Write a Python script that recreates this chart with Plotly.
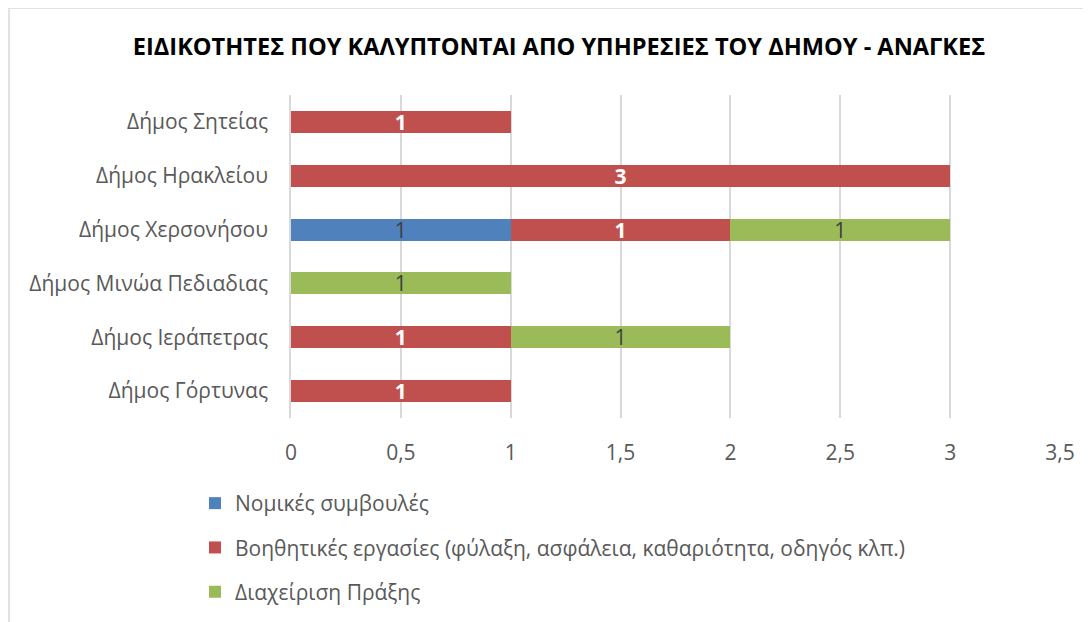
import plotly.graph_objects as go

categories = ["Δήμος Γόρτυνας", "Δήμος Ιεράπετρας", "Δήμος Μινώα Πεδιαδιας",
              "Δήμος Χερσονήσου", "Δήμος Ηρακλείου", "Δήμος Σητείας"]
series_names = ["Νομικές συμβουλές",
                "Βοηθητικές εργασίες (φύλαξη, ασφάλεια, καθαριότητα, οδηγός κλπ.)",
                "Διαχείριση Πράξης"]
legal = [None, None, None, 1, None, None]
support = [1, 1, None, 1, 3, 1]
management = [None, 1, 1, 1, None, None]
colors = ["#4F81BD", "#C0504D", "#9BBB59"]
x_ticks = [0, 0.5, 1, 1.5, 2, 2.5, 3, 3.5]

FONT = "Open Sans"
FS = 21
fig = go.Figure()
values = [legal, support, management]
for i, (name, vals) in enumerate(zip(series_names, values)):
    bold = (i == 1)
    fig.add_trace(go.Bar(
        y=categories, x=vals, name=name, orientation="h",
        marker=dict(color=colors[i], line=dict(width=0)),
        text=[("<b>%d</b>" % v if bold else "%d" % v) if v is not None else "" for v in vals],
        textposition="inside", insidetextanchor="middle", textangle=0,
        constraintext="none",
        textfont=dict(family=FONT, size=FS, color="#FFFFFF" if bold else "#404040"),
        legendgroup="g%d" % i, hoverinfo="x+y+name",
    ))

# page body has an 8px margin; figure coords = screen coords - 8
OFF = 8
W, H = 1091, 614
ml, mr, mt, mb = 291 - OFF, W - 1060 + OFF, 95 - OFF, H - (418 - OFF)
pw, ph = W - ml - mr, H - mt - mb

def px_x(p):
    return (p - OFF - ml) / pw

def px_y(p):
    return (H - mb - (p - OFF)) / ph

fig.update_layout(
    width=W, height=H,
    margin=dict(l=ml, r=mr, t=mt, b=mb, autoexpand=False),
    barmode="stack", bargap=0.59,
    paper_bgcolor="white", plot_bgcolor="white",
    separators=",.",
    font=dict(family=FONT, color="#595959", size=FS),
    title=dict(text="<b>ΕΙΔΙΚΟΤΗΤΕΣ ΠΟΥ ΚΑΛΥΠΤΟΝΤΑΙ ΑΠΟ ΥΠΗΡΕΣΙΕΣ ΤΟΥ ΔΗΜΟΥ - ΑΝΑΓΚΕΣ</b>",
               x=(559 - OFF) / W, xanchor="center", y=1 - (47 - OFF) / H, yanchor="middle",
               font=dict(family=FONT, size=23.6, color="#000000")),
    xaxis=dict(range=[0, 3.5], tickvals=x_ticks, showgrid=True, gridcolor="#D9D9D9",
               gridwidth=1.5, zeroline=False, showline=False, ticks="",
               tickfont=dict(size=FS, color="#595959"), ticklabelstandoff=20, fixedrange=True),
    yaxis=dict(showgrid=False, zeroline=False, showline=True, linecolor="#D9D9D9",
               linewidth=1.5, ticks="", tickfont=dict(size=FS, color="#595959"),
               ticklabelstandoff=17, fixedrange=True),
    legend=dict(orientation="v", x=px_x(195), xanchor="left", y=px_y(483), yanchor="top",
                traceorder="grouped", tracegroupgap=14,
                font=dict(size=FS, color="#595959"), bgcolor="rgba(0,0,0,0)"),
    showlegend=True,
    shapes=[
        dict(type="line", xref="paper", yref="paper", x0=px_x(9), x1=px_x(9),
             y0=px_y(640), y1=px_y(8), line=dict(color="#D9D9D9", width=1.5)),
        dict(type="line", xref="paper", yref="paper", x0=px_x(9), x1=px_x(1100),
             y0=px_y(8), y1=px_y(8), line=dict(color="#D9D9D9", width=1.5)),
    ],
)

fig.write_html("out.html")
